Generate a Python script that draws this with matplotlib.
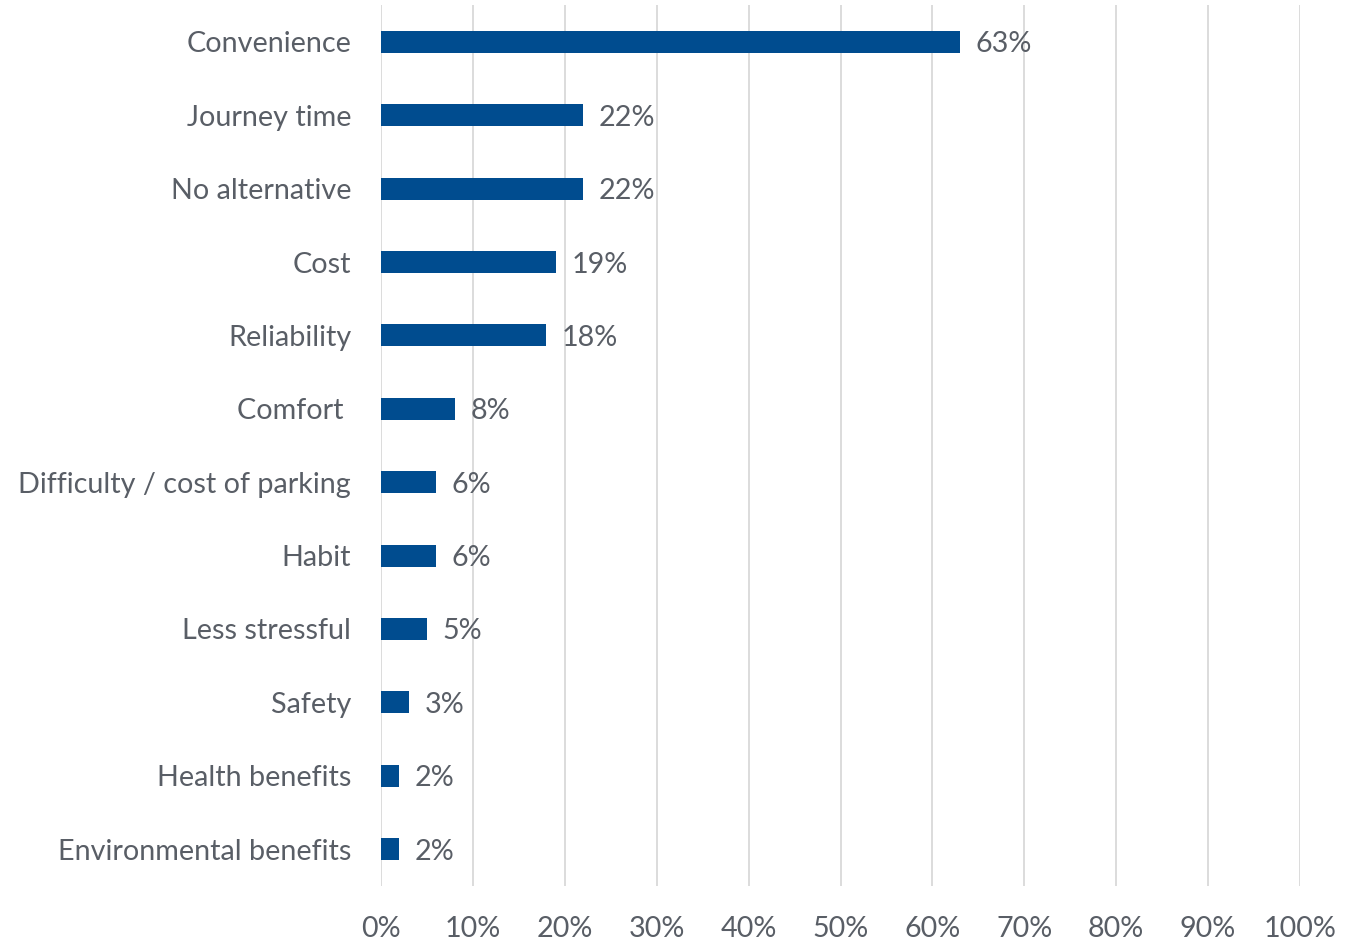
import matplotlib
matplotlib.use("Agg")
import matplotlib.pyplot as plt
from matplotlib.ticker import FuncFormatter

categories = ["Convenience", "Journey time", "No alternative", "Cost", "Reliability",
              "Comfort ", "Difficulty / cost of parking", "Habit", "Less stressful",
              "Safety", "Health benefits", "Environmental benefits"]
shares = [63, 22, 22, 19, 18, 8, 6, 6, 5, 3, 2, 2]
xticks = list(range(0, 101, 10))

BAR = "#004C8F"
TXT = "#595E66"
GRID = "#D9D9D9"
FS = 20.7

plt.rcParams["font.family"] = ["Lato", "DejaVu Sans"]

fig = plt.figure(figsize=(13.59, 9.42), dpi=100)
ax = fig.add_axes([0.2804, 0.0597, 0.6762, 0.9347])

pos = list(range(len(categories)))
ax.barh(pos, shares, height=0.30, color=BAR, zorder=2)
for y, v in zip(pos, shares):
    ax.text(v + 1.7, y, f"{v}%", va="center_baseline", ha="left", fontsize=FS,
            color=TXT, zorder=3)

ax.set_ylim(len(categories) - 0.5, -0.5)
ax.set_xlim(0, 100)
ax.set_yticks(pos)
ax.set_yticklabels(categories, fontsize=FS, color=TXT, va="center_baseline")
ax.set_xticks(xticks)
ax.xaxis.set_major_formatter(FuncFormatter(lambda v, _: f"{v:.0f}%"))
ax.tick_params(axis="x", labelsize=FS, labelcolor=TXT, length=0, pad=22)
ax.tick_params(axis="y", length=0, pad=21.5)
ax.grid(axis="x", color=GRID, lw=1.3, zorder=0)
for s in ax.spines.values():
    s.set_visible(False)

fig.savefig("out.png", dpi=100)
